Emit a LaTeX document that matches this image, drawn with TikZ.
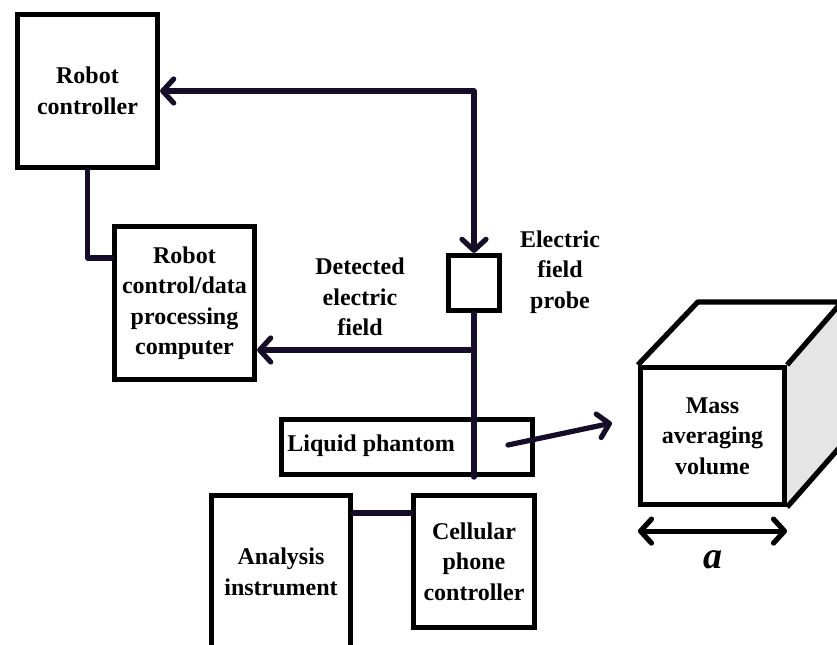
\documentclass[tikz,border=0pt]{standalone}
\usepackage{fontspec}
\setmainfont{Liberation Serif}
\usepackage{xcolor}
\definecolor{wire}{RGB}{22,14,40}
\usepackage{tikz}
\usetikzlibrary{arrows.meta}

\begin{document}
\begin{tikzpicture}[x=0.5pt,y=-0.5pt,>={Straight Barb[round,length=5.5pt,width=12pt]},
    font=\fontsize{12}{15.25}\selectfont\bfseries,
    unit/.style={draw=black,line width=2.6pt,fill=white,align=center,inner sep=0pt},
    wireline/.style={draw=wire,line width=2.6pt,line cap=round,line join=round}]
  \useasboundingbox (0,0) rectangle (837,644);
  \clip (0,0) rectangle (837,644);
  % ---------------- robot side
  \node[unit,minimum width=70pt,minimum height=76.5pt] (ctrl) at (87.5,91) {Robot\\controller};
  \node[unit,minimum width=70pt,minimum height=76.5pt] (comp) at (184.5,303)
    {Robot\\control/data\\processing\\computer};
  \node[unit,minimum width=25.5pt,minimum height=27.5pt] (probe) at (474,283) {};
  \node[unit,minimum width=125.5pt,minimum height=27.5pt] (phantom) at (407,447) {};
  \node[anchor=west,inner sep=0pt] (phantomtxt) at (287,446) {Liquid phantom};
  \node[align=center] (detlbl) at (360,297) {Detected\\electric\\field};
  \node[align=center] (probelbl) at (560,272) {Electric\\field\\probe};
  % ---------------- measurement side
  \node[unit,minimum width=69.5pt,minimum height=76.5pt] (ana) at (281,572) {Analysis\\instrument};
  \node[unit,minimum width=60.5pt,minimum height=66pt] (cell) at (474,561.5) {Cellular\\phone\\controller};
  % ---------------- connectors
  \draw[wireline] (ctrl.south) |- ([yshift=22.5pt]comp.west);
  \draw[wireline,<->] (ctrl.east) -| (probe.north);
  \draw[wireline] (probe.south) -- (probe.south |- phantom.south);
  \coordinate (tap) at (474,350);
  \draw[wireline,->] (tap) -- (tap -| comp.east);
  \coordinate (link) at ([yshift=-10pt]cell.north west);
  \draw[wireline] (ana.east |- link) -- (link);
  % ---------------- mass averaging cube
  \node[unit,minimum width=72pt,minimum height=68.5pt] (cube) at (712.5,436) {Mass\\averaging\\volume};
  \fill[black!10] (cube.north east) -- ++(60,-63) -- ++(0,137) -- (cube.south east) -- cycle;
  \draw[line width=2.6pt,line join=round] (cube.north west) -- ++(60,-63) -- ++(144,0) -- (cube.north east);
  \draw[line width=2.6pt,line join=round] (cube.north east) ++(60,-63) -- ++(0,137) -- (cube.south east);
  \coordinate (src) at (508,445);
  \coordinate (dst) at (612,423);
  \draw[wireline,->] (src) -- (dst);
  \draw[line width=2.6pt,line cap=round,<->] ([yshift=-12pt]cube.south west) -- ([yshift=-12pt]cube.south east)
    node[midway,below=5pt,font=\fontsize{19}{22}\selectfont\bfseries\itshape] (albl) {a};
\end{tikzpicture}
\end{document}
